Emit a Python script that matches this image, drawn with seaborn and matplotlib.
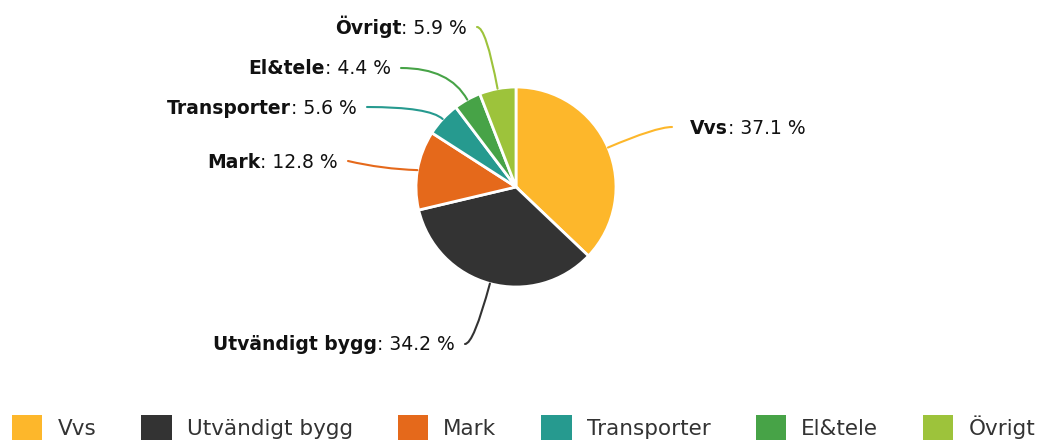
import numpy as np
import matplotlib
matplotlib.use("Agg")
import matplotlib.pyplot as plt
import seaborn as sns
from matplotlib.patches import Patch

sns.set_theme(style="white")
plt.rcParams['font.family'] = ['DejaVu Sans']

categories = ["Vvs", "Utvändigt bygg", "Mark", "Transporter", "El&tele", "Övrigt"]
values = [37.1, 34.2, 12.8, 5.6, 4.4, 5.9]
colors = ["#FDB72B", "#333333", "#E5691B", "#269A8F", "#47A347", "#9DC33B"]

W, H = 1041, 442
fig = plt.figure(figsize=(W / 100, H / 100), dpi=100)
ax = fig.add_axes([0, 0, 1, 1])
ax.set_xlim(0, W)
ax.set_ylim(0, H)
ax.set_aspect("equal")
ax.axis("off")

cx, cy, R = 516, H - 187, 100
wedges, _ = ax.pie(values, colors=colors, startangle=90, counterclock=False,
                   center=(cx, cy), radius=R,
                   wedgeprops=dict(edgecolor="white", linewidth=2))
ax.set_xlim(0, W)
ax.set_ylim(0, H)

label_pos = {
    "Vvs": (690, 127, "left"),
    "Utvändigt bygg": (455, 344, "right"),
    "Mark": (338, 161, "right"),
    "Transporter": (357, 107, "right"),
    "El&tele": (391, 68, "right"),
    "Övrigt": (467, 27, "right"),
}

fs = 13.5
fig.canvas.draw()
renderer = fig.canvas.get_renderer()
inv = ax.transData.inverted()

for w, cat, val in zip(wedges, categories, values):
    mid = (w.theta1 + w.theta2) / 2
    ang = np.deg2rad(mid)
    px, py = cx + R * np.cos(ang), cy + R * np.sin(ang)
    tx, ty, ha = label_pos[cat]
    ty = H - ty
    col = w.get_facecolor()
    lx = tx - 18 if ha == "left" else tx + 10
    a = mid % 360
    if abs(np.sin(ang)) < 0.35:
        cs = "arc3,rad=0.05"
    else:
        cs = f"angle3,angleA=0,angleB={a:.1f}"
    ax.annotate("", xy=(px, py), xytext=(lx, ty),
                arrowprops=dict(arrowstyle="-", color=col, lw=1.5,
                                connectionstyle=cs, shrinkA=0, shrinkB=0))
    by = ty - 6.5
    if ha == "left":
        t1 = ax.text(tx, by, cat, fontsize=fs, fontweight="bold", color="#111111",
                     ha="left", va="baseline")
        bb = t1.get_window_extent(renderer)
        x2 = inv.transform((bb.x1, 0))[0]
        ax.text(x2, by, f": {val} %", fontsize=fs, color="#111111", ha="left", va="baseline")
    else:
        t2 = ax.text(tx, by, f": {val} %", fontsize=fs, color="#111111", ha="right", va="baseline")
        bb = t2.get_window_extent(renderer)
        x1 = inv.transform((bb.x0, 0))[0]
        ax.text(x1, by, cat, fontsize=fs, fontweight="bold", color="#111111",
                ha="right", va="baseline")

handles = [Patch(facecolor=c, edgecolor="none") for c in colors]
leg = fig.legend(handles, categories, loc="lower center", bbox_to_anchor=(0.503, -0.04),
                 ncol=6, frameon=False, fontsize=15.5, handlelength=1.4, handleheight=1.4,
                 columnspacing=2.1, handletextpad=0.7, labelcolor="#333333")

fig.savefig("out.png", dpi=100)
